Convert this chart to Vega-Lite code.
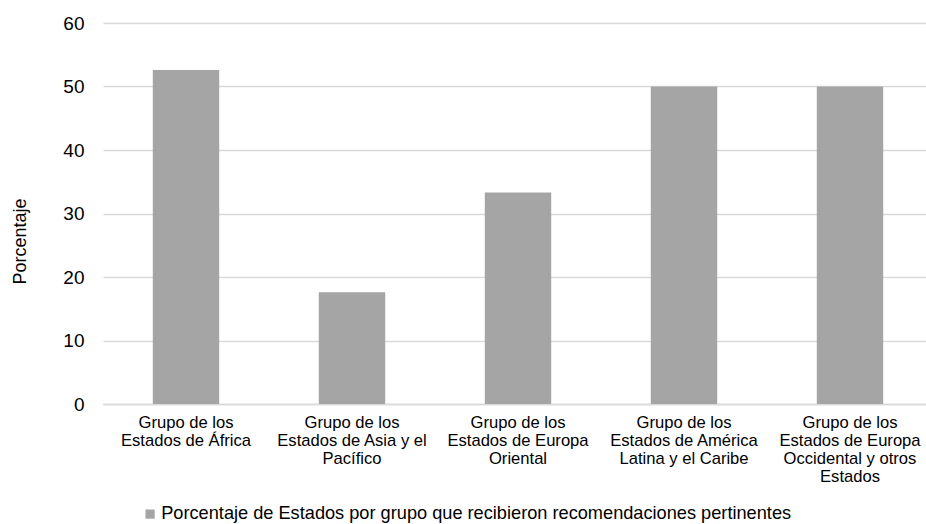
{
  "$schema": "https://vega.github.io/schema/vega-lite/v6.json",
  "autosize": {"type": "none"},
  "width": 823,
  "height": 381,
  "padding": {"left": 103, "top": 23, "right": 0, "bottom": 120},
  "background": "white",
  "config": {
    "font": "Liberation Sans",
    "view": {"stroke": null},
    "axis": {"labelColor": "#000000", "titleColor": "#000000", "labelFont": "Liberation Sans", "titleFont": "Liberation Sans"}
  },
  "data": {
    "values": [
      {"grupo": "Grupo de los\nEstados de África", "porcentaje": 52.6, "serie": "Porcentaje de Estados por grupo que recibieron recomendaciones pertinentes"},
      {"grupo": "Grupo de los\nEstados de Asia y el\nPacífico", "porcentaje": 17.6, "serie": "Porcentaje de Estados por grupo que recibieron recomendaciones pertinentes"},
      {"grupo": "Grupo de los\nEstados de Europa\nOriental", "porcentaje": 33.3, "serie": "Porcentaje de Estados por grupo que recibieron recomendaciones pertinentes"},
      {"grupo": "Grupo de los\nEstados de América\nLatina y el Caribe", "porcentaje": 50, "serie": "Porcentaje de Estados por grupo que recibieron recomendaciones pertinentes"},
      {"grupo": "Grupo de los\nEstados de Europa\nOccidental y otros\nEstados", "porcentaje": 50, "serie": "Porcentaje de Estados por grupo que recibieron recomendaciones pertinentes"}
    ]
  },
  "mark": {"type": "bar", "color": "#a5a5a5"},
  "encoding": {
    "x": {
      "field": "grupo",
      "type": "nominal",
      "sort": null,
      "scale": {"range": [0, 830], "paddingInner": 0.6, "paddingOuter": 0.3},
      "axis": {
        "title": null,
        "labelAngle": 0,
        "labelExpr": "split(datum.label, '\\n')",
        "labelFontSize": 16.6,
        "labelLineHeight": 18,
        "labelPadding": 10,
        "labelLimit": 200,
        "ticks": false,
        "domainColor": "#d9d9d9",
        "domainWidth": 1.3,
        "grid": false
      }
    },
    "y": {
      "field": "porcentaje",
      "type": "quantitative",
      "scale": {"domain": [0, 60], "nice": false},
      "axis": {
        "title": "Porcentaje",
        "values": [0, 10, 20, 30, 40, 50, 60],
        "labelFontSize": 19,
        "labelPadding": 19,
        "ticks": false,
        "domain": false,
        "gridColor": "#d9d9d9",
        "gridWidth": 1.3,
        "titleFontSize": 18,
        "titleFontWeight": "normal",
        "titleX": -83,
        "titleY": 218,
        "titleAlign": "center",
        "titleBaseline": "middle"
      }
    },
    "color": {
      "field": "serie",
      "type": "nominal",
      "scale": {"range": ["#a5a5a5"]},
      "legend": {
        "title": null,
        "orient": "none",
        "legendX": 38,
        "legendY": 482,
        "symbolType": "square",
        "symbolSize": 85,
        "symbolStrokeWidth": 0,
        "labelFontSize": 18.2,
        "labelColor": "#000000",
        "labelLimit": 800,
        "labelOffset": 2
      }
    }
  }
}
